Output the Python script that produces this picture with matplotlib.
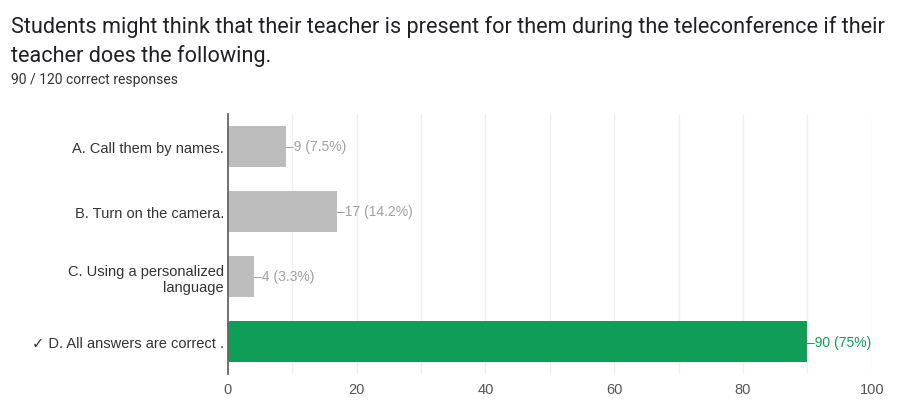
import matplotlib.pyplot as plt

# data
labels  = ['A. Call them by names.', 'B. Turn on the camera.', 'C. Using a personalized\nlanguage', '\u2713 D. All answers are correct .']
counts  = [9, 17, 4, 90]
percent = ['7.5%', '14.2%', '3.3%', '75%']
correct = [False, False, False, True]
ticks   = [0, 20, 40, 60, 80, 100]

GREY  = '#bdbdbd'
GREEN = '#0f9d58'
LABELFONT = ['Liberation Sans', 'DejaVu Sans']

plt.rcParams['font.family'] = ['Roboto', 'DejaVu Sans']

fig = plt.figure(figsize=(9.1, 4.02), dpi=100)
ax = fig.add_axes([0.2505, 0.067, 0.7075, 0.648])

ypos = list(range(len(counts)))
colors = [GREEN if c else GREY for c in correct]
ax.barh(ypos, counts, height=0.63, color=colors, zorder=2)

for y, n, p, c in zip(ypos, counts, percent, correct):
    col = GREEN if c else '#a0a0a0'
    ax.annotate(f'\u2013{n} ({p})', xy=(n, y), xytext=(0, 0), textcoords='offset points',
                va='center', ha='left', fontsize=10, color=col, family=LABELFONT)

ax.set_xlim(0, 100)
ax.set_ylim(len(counts) - 0.5, -0.5)
ax.set_yticks(ypos)
ax.set_yticklabels(labels, fontsize=10.5, color='#333333', ha='right', multialignment='right',
                   family=LABELFONT)
ax.set_xticks(ticks)
ax.set_xticklabels([str(t) for t in ticks], fontsize=10.5, color='#555555', family=LABELFONT)
ax.set_xticks(range(0, 101, 10), minor=True)
ax.grid(axis='x', which='both', color='#f0f0f0', linewidth=1, zorder=0)
ax.tick_params(axis='both', which='both', length=0, pad=6)
ax.tick_params(axis='y', pad=3)
for side in ['top', 'right', 'bottom']:
    ax.spines[side].set_visible(False)
ax.spines['left'].set_color('#666666')
ax.spines['left'].set_linewidth(1.3)
ax.spines['left'].set_zorder(3)

fig.text(0.012, 0.932, 'Students might think that their teacher is present for them during the teleconference if their',
         fontsize=15.6, color='#202124', va='center')
fig.text(0.012, 0.860, 'teacher does the following.', fontsize=15.6, color='#202124', va='center')
fig.text(0.012, 0.80, '90 / 120 correct responses', fontsize=10, color='#333333', va='center')

fig.savefig('out.png', dpi=100)
